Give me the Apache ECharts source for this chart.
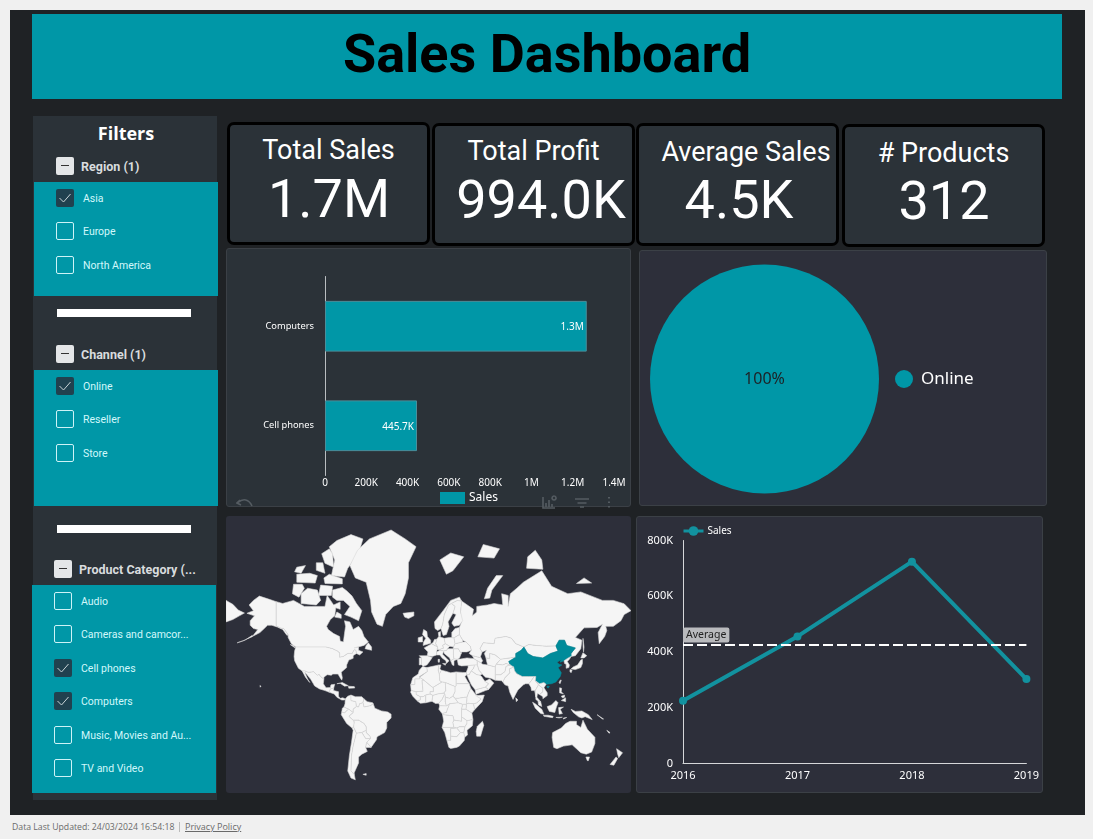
<!DOCTYPE html>
<html>
<head>
<meta charset="utf-8">
<title>Sales Dashboard</title>
<script src="https://cdn.jsdelivr.net/npm/echarts@6/dist/echarts.min.js"></script>
<style>
    html, body { margin: 0; padding: 0; background: #f0f0f0; width: 1093px; height: 839px; overflow: hidden; font-family: Roboto, sans-serif; }
    .box { position: absolute; box-sizing: border-box; }
    #page { left: 10px; top: 10px; width: 1075px; height: 805px; background: #1f2225; }
    #header { left: 32px; top: 14px; width: 1030px; height: 85px; background: #0097a7; color: #000; font: 700 54px/80px Roboto, sans-serif; text-align: center; }
    .panel { border: 1px solid #3b4046; border-radius: 3px; }
    .kpi { background: #2b3238; border: 3px solid #000; border-radius: 7px; color: #fff; }
    .kpi div { position: absolute; white-space: nowrap; transform: translate(-50%, -50%); }
    .kpi .t { font-size: 27px; }
    .kpi .v { font-size: 54px; }
    .txt { position: absolute; white-space: nowrap; transform: translateY(-50%); }
    .cb { position: absolute; width: 18px; height: 18px; box-sizing: border-box; border-radius: 2px; }
    #footer { position: absolute; left: 12px; top: 821px; font: 8.7px/12px "Open Sans", sans-serif; color: #6a6a6a; white-space: nowrap; }
    #footer span { position: absolute; left: 173px; font-size: 9px; text-decoration: underline; }
    #footer i { position: absolute; left: 167px; top: 1px; height: 10px; border-left: 1px solid #bbb; }
</style>
</head>
<body>
<div class="box" id="page"></div>
<div class="box" id="header">Sales Dashboard</div>
<div class="box" id="sidebar" style="left:33px;top:116px;width:184px;height:684px;background:#2b3238"></div>
<div class="box panel" id="bar_chart" style="left:226px;top:248px;width:405px;height:259px;background:#2b3238"></div>
<div class="box panel" id="pie_chart" style="left:639px;top:250px;width:408px;height:256px;background:#2d2f3a"></div>
<div class="box panel" id="map_chart" style="left:226px;top:516px;width:405px;height:277px;background:#2d2f3a;border:0"></div>
<div class="box panel" id="line_chart" style="left:636px;top:516px;width:407px;height:277px;background:#2d2f3a"></div>
<svg class="box" style="left:236px;top:494px;width:395px;height:16px" fill="none" stroke="#555c62" stroke-width="1.6">
    <path d="M4 6 L1 9 L5 11 M2 8.5 C7 4 13 5 16 12"/>
    <path d="M307 3 V14 H319 M310 13 V9 M313 13 V6 M316 13 V10 M318 2 a2 2 0 1 0 .1 0"/>
    <path d="M339 5 H353 M341.5 9 H350.5 M344 13 H348"/>
    <path d="M373 3 V4.5 M373 7.5 V9 M373 12 V13.5" stroke-width="2"/>
</svg>
<div id="footer">Data Last Updated: 24/03/2024 16:54:18<i></i><span>Privacy Policy</span></div>

<script>
    // ---- values ----
    var kpi_titles = ['Total Sales', 'Total Profit', 'Average Sales', '# Products'];
    var kpi_values = ['1.7M', '994.0K', '4.5K', '312'];

    var region_options = ['Asia', 'Europe', 'North America'];
    var region_checked = ['Asia'];
    var channel_options = ['Online', 'Reseller', 'Store'];
    var channel_checked = ['Online'];
    var category_options = ['Audio', 'Cameras and camcor...', 'Cell phones', 'Computers', 'Music, Movies and Au...', 'TV and Video'];
    var category_checked = ['Cell phones', 'Computers'];

    var bar_categories = ['Computers', 'Cell phones'];
    var bar_values = [1268000, 445700];
    var bar_labels = ['1.3M', '445.7K'];

    var pie_names = ['Online'];
    var pie_values = [1713700];

    var line_years = ['2016', '2017', '2018', '2019'];
    var line_values = [225000, 456000, 724000, 303000];
    var line_average = 427000;

    var selected_countries = ['China'];

    // ---- rough world outlines, [lon, lat] ----
    var world_shapes = {
        'Alaska': [
            [[-141,69.6],[-148,70.4],[-156.5,71.3],[-162,70],[-166,68.5],[-162,66.5],[-168,65.5],[-161,64.5],[-165,62.5],[-165,60.5],[-162,59],[-158,58.5],[-163,55],[-156,57],[-152,59],[-149,60.5],[-145,60.5],[-140,59.7],[-135,58.5],[-131,55.5],[-130,56],[-134,59],[-137,59.2],[-141,60.3]],
            [[-163,54.9],[-172,52.6],[-177,51.5],[-170,52.9],[-163,55.6]]
        ],
        'Canada': [
            [[-141,69.6],[-141,60.3],[-137,59.2],[-134,59],[-130,56],[-130,54.5],[-127,51],[-123,49],[-95,49],[-89,48],[-84.5,46.5],[-82.5,45.3],[-82.5,42.5],[-79,43],[-76,44.5],[-74.7,45],[-71,45],[-69,47.3],[-67.5,47],[-67,45],[-64,44],[-61,46],[-65,47],[-65,49],[-69,48.5],[-60,50],[-56,52],[-60,55],[-62,58],[-65,60],[-70,58.5],[-73,62],[-78,62.5],[-77,60],[-78,56.5],[-79,52],[-82,52.5],[-82.5,55],[-88,56.5],[-93,58.5],[-94.5,60],[-91,63],[-87,64.5],[-86,67.5],[-82,67],[-82,69.5],[-88,68.5],[-94,71.5],[-96,68],[-108,68],[-115,68],[-125,70],[-135,69]],
            [[-80,73.7],[-76,72.8],[-71,71.3],[-67,69],[-62,66.5],[-65,62.5],[-72,64],[-78,65],[-73,68],[-79,70],[-85,70],[-89,71],[-89,73]],
            [[-118,69],[-104,68.5],[-100,70],[-103,73],[-112,73.5],[-118,72]],
            [[-126,72],[-120,71],[-115,73.5],[-117,74.5],[-125,74.5]],
            [[-90,76.5],[-78,76.2],[-75,78],[-65,80.5],[-61,82.5],[-72,83],[-85,82.3],[-92,81.5],[-87,79.5]],
            [[-96,74.7],[-80,74.6],[-80,75.8],[-92,76.8],[-97,76]],
            [[-122,75],[-105,74.8],[-103,76.5],[-110,77],[-122,76.8]],
            [[-96,78.9],[-88,78.2],[-89,80.5],[-92,81.2],[-99,80.5]],
            [[-102,71.5],[-90,71.5],[-89,74],[-100,74.3]],
            [[-124,77.3],[-118,77],[-114,78.5],[-122,78.2]],
            [[-104,77.6],[-96,77],[-98,79],[-104,79]],
            [[-59,48],[-53,47],[-53,49],[-56,51.5],[-58,50]],
            [[-87,64],[-81,63.5],[-81,65],[-85,66]],
            [[-128,50.5],[-123.5,48.4],[-125,50]]
        ],
        'Greenland': [[[-73,78.5],[-66,81],[-55,82.5],[-35,83.5],[-22,82.5],[-12,81.5],[-19,79],[-19,76],[-22,72],[-26,69],[-33,68],[-40,65],[-43,60],[-48,61],[-53,66],[-54,70],[-58,75],[-68,76]]],
        'United States': [
            [[-123,49],[-95,49],[-89,48],[-84.5,46.5],[-82.5,45.3],[-82.5,42.5],[-79,43],[-76,44.5],[-74.7,45],[-71,45],[-69,47.3],[-67.5,47],[-67,45],[-70,43.5],[-70,41.7],[-74,40.5],[-76,37],[-76,35],[-81,31.5],[-80,27],[-80.5,25],[-82,27],[-84,30],[-89,30],[-90,29],[-94,29.5],[-97,27.5],[-97,26],[-99.5,27.5],[-101.5,29.7],[-103,29],[-106.5,31.8],[-111,31.3],[-114.7,32.5],[-117,32.5],[-120.5,34.5],[-124,40],[-124.5,43],[-124,46.5]],
            [[-156,20.5],[-155,19.7],[-155.7,19]]
        ],
        'Mexico': [[[-117,32.5],[-114.7,32.5],[-111,31.3],[-106.5,31.8],[-103,29],[-101.5,29.7],[-99.5,27.5],[-97,26],[-97.5,22],[-95,18.5],[-91,18.7],[-90.5,21],[-87,21.5],[-88,18],[-91,17.5],[-92,14.5],[-96,16],[-101,17.5],[-105.5,20],[-109,25.5],[-112.5,29.5],[-114.7,31.5],[-112,26],[-110,23],[-114,27.5]]],
        'Central America': [[[-92,14.5],[-91,17.5],[-88,18],[-88,16],[-83.5,15],[-83.5,11],[-82,9],[-79.5,9.5],[-77.3,8.5],[-78,7.5],[-80.5,7.5],[-85,10],[-87.5,13]]],
        'Cuba': [[[-85,22],[-80,23],[-74.5,20.3],[-78,19.9],[-82,22.3]]],
        'Hispaniola': [[[-74.5,19.8],[-69,19.5],[-68.5,18.3],[-74,18]]],
        'Colombia': [[[-77.3,8.5],[-75,11],[-72,12],[-72,7],[-67.5,6],[-67,1.5],[-70,-1],[-70,-4],[-74,-1],[-78.5,1],[-77.5,4]]],
        'Venezuela': [[[-72,12],[-68,10.5],[-62,10.5],[-60,8.5],[-61,5],[-64,4],[-65,1],[-67,1.5],[-67.5,6],[-72,7]]],
        'Guianas': [[[-60,8.5],[-57,6],[-52,5],[-51.5,4],[-54,2.2],[-58,1.5],[-60,1],[-61,5]]],
        'Brazil': [[[-51.5,4],[-50,0],[-44,-2.5],[-38,-3.5],[-35,-5.5],[-35,-9],[-39,-13],[-39,-18],[-41,-22],[-48,-25.5],[-48.5,-28],[-53.5,-34],[-57.5,-30],[-54,-27],[-54.5,-25],[-58,-22],[-58,-17],[-60,-14],[-65,-11],[-70,-11],[-74,-7.5],[-70,-4],[-70,-1],[-67,1.5],[-65,1],[-64,4],[-61,5],[-60,1],[-58,1.5],[-54,2.2]]],
        'Ecuador': [[[-78.5,1],[-74,-1],[-75.5,-2],[-78,-4.5],[-80.5,-3.5],[-80,0]]],
        'Peru': [[[-80.5,-3.5],[-78,-4.5],[-75.5,-2],[-74,-1],[-70,-4],[-74,-7.5],[-70,-11],[-69,-12.5],[-69.5,-17.5],[-71,-18],[-76,-14],[-81,-6]]],
        'Bolivia': [[[-70,-11],[-65,-11],[-60,-14],[-58,-17],[-58,-20],[-62,-22],[-67,-22.5],[-69.5,-17.5],[-69,-12.5]]],
        'Paraguay': [[[-58,-20],[-58,-22],[-54.5,-25],[-54,-27],[-58.5,-27],[-62,-22]]],
        'Chile': [[[-69.5,-17.5],[-67,-22.5],[-70,-33],[-71.5,-40],[-72,-50],[-69,-52],[-68,-55],[-72,-54],[-75,-50],[-73.5,-40],[-71.5,-30],[-70,-20],[-71,-18]]],
        'Argentina': [[[-67,-22.5],[-62,-22],[-58.5,-27],[-54,-27],[-57.5,-30],[-58.5,-34],[-57,-37],[-62,-39],[-65,-41],[-65,-45],[-69,-51],[-69,-52],[-72,-50],[-71.5,-40],[-70,-33]]],
        'Uruguay': [[[-57.5,-30],[-53.5,-34],[-58.5,-34]]],
        'Falklands': [[[-61,-52],[-58,-51.5],[-58,-52.5]]],
        'Morocco': [[[-6,35.8],[-2,35],[-1.5,32],[-8.7,28],[-8.7,26],[-13,26],[-13,21.3],[-17,21],[-15,27],[-10,30],[-9,33]]],
        'Algeria': [[[-2,35],[9,37],[8.5,33],[9.5,30],[10,24.5],[12,23.5],[4,19],[3,19],[-4.8,25],[-8.7,27.5],[-8.7,28],[-1.5,32]]],
        'Tunisia': [[[9,37],[11,37],[10,34],[11.5,33],[9.5,30],[8.5,33]]],
        'Libya': [[[11.5,33],[15,32.3],[20,31],[25,31.7],[25,20],[24,19.5],[15,23],[12,23.5],[10,24.5],[9.5,30]]],
        'Egypt': [[[25,31.7],[31,31.3],[34.3,31.2],[34.9,29.5],[33,28],[35.5,24],[37,22],[25,22]]],
        'Mauritania': [[[-17,21],[-13,21.3],[-13,26],[-8.7,26],[-8.7,27.5],[-4.8,25],[-6.5,25],[-5.5,15.5],[-12,15],[-16.5,16]]],
        'Mali': [[[-4.8,25],[3,19],[4,19],[4,15],[1,15],[1,13],[-3,12],[-5.5,10.5],[-8,10.5],[-12,12.5],[-12,15],[-5.5,15.5],[-6.5,25]]],
        'Niger': [[[4,19],[12,23.5],[15,23],[15.5,16],[13.5,13.7],[8,13],[3.5,11.7],[1,13],[1,15],[4,15]]],
        'Chad': [[[15,23],[24,19.5],[24,15],[22,11],[19,9],[15,10],[14.5,13],[13.5,13.7],[15.5,16]]],
        'Sudan': [[[24,19.5],[25,20],[25,22],[37,22],[38.5,18],[36.5,14],[35,10],[33,10],[27,9],[24,9],[22,11],[24,15]]],
        'Senegal': [[[-16.5,16],[-12,15],[-12,12.5],[-8,10.5],[-8,7.5],[-11,6.8],[-15,11],[-17,14.5]]],
        'Ivory Coast': [[[-8,10.5],[-5.5,10.5],[-3,12],[-3,5],[-8,4.5],[-11,6.8],[-8,7.5]]],
        'Ghana': [[[-3,12],[1,13],[3.5,11.7],[2.7,6.3],[-3,5]]],
        'Nigeria': [[[3.5,11.7],[8,13],[13.5,13.7],[14.5,13],[12,8],[9,4.5],[6,4.3],[2.7,6.3]]],
        'Cameroon': [[[14.5,13],[15,10],[15,6],[16,2],[9.8,2.2],[9,4.5],[12,8]]],
        'Central African Rep': [[[15,10],[19,9],[22,11],[24,9],[27,5],[19,4],[16,2],[15,6]]],
        'Gabon': [[[9.8,2.2],[16,2],[19,4],[17,-1],[16,-4],[12,-5],[9,-1]]],
        'DR Congo': [[[19,4],[27,5],[31,3.5],[30,-1],[30,-8],[30,-12],[23,-11],[22,-7],[12.5,-6],[12,-5],[16,-4],[17,-1]]],
        'Angola': [[[12.5,-6],[22,-7],[23,-11],[22,-13],[23,-17.5],[12,-17.5],[13.5,-12]]],
        'Ethiopia': [[[36.5,14],[38.5,18],[43,12.5],[48,8.5],[44,4.8],[41,4],[36,4.5],[34.5,3.5],[35,10]]],
        'Somalia': [[[43,11.5],[51,12],[49,6],[42,-1.5],[41,4],[44,4.8],[48,8.5]]],
        'Kenya': [[[36,4.5],[41,4],[42,-1.5],[39.5,-4.5],[34,-1],[34.5,3.5]]],
        'South Sudan': [[[24,9],[27,9],[33,10],[35,10],[34.5,3.5],[31,3.5],[27,5]]],
        'Uganda': [[[31,3.5],[34.5,3.5],[34,-1],[30,-1]]],
        'Tanzania': [[[34,-1],[39.5,-4.5],[40.5,-10.5],[35,-11.5],[30,-8],[30,-1]]],
        'Zambia': [[[22,-13],[23,-11],[30,-12],[30,-8],[35,-11.5],[35,-14],[33,-17],[28,-17],[25.5,-18],[23,-17.5]]],
        'Mozambique': [[[35,-11.5],[40.5,-10.5],[40,-16],[35,-20],[35.5,-24],[32.8,-26],[32,-22],[33,-17],[35,-14]]],
        'Zimbabwe': [[[28,-17],[33,-17],[32,-22],[29,-22],[25.5,-18]]],
        'Namibia': [[[12,-17.5],[23,-17.5],[25.5,-18],[20,-18.5],[20,-28.5],[16.5,-28.5],[14.5,-22]]],
        'Botswana': [[[20,-18.5],[25.5,-18],[29,-22],[25.5,-25.5],[20,-25]]],
        'South Africa': [[[16.5,-28.5],[20,-28.5],[20,-25],[25.5,-25.5],[29,-22],[32,-22],[32.8,-26],[32.5,-28.5],[28,-33],[25.5,-34],[20,-34.8],[18.3,-34]]],
        'Madagascar': [[[49.3,-12],[50.5,-15.5],[47.5,-25],[44,-25],[43.5,-21],[44.5,-16.5]]],
        'Russia': [
            [[30,69.8],[41,67],[40,64.5],[44,66],[44,68],[54,68.5],[60,69],[68,68.5],[67,72],[73,71.5],[73,68],[75,72],[81,73.5],[87,75],[104,77.5],[113,74],[128,72],[140,72.5],[160,70],[170,70],[180,68.9],[186.3,66.5],[180,65],[177,62.5],[170,60],[163,60],[164,58],[162,55],[157,51],[156,57],[160,61],[155,59.5],[143,59.3],[135,54.5],[141,53],[140,48],[135,43.5],[131,43],[131,45],[135,48.5],[127,50],[125,53],[120,53],[117,49.7],[108,49.5],[98,50],[92,50.5],[87.5,49],[80,51],[76,54],[71,55],[61,54],[60,51],[50,51.5],[47,48],[49,46],[47.5,43],[48,42],[40,43.5],[37,45],[39,47],[38,49.5],[34,52],[31,53],[28,56],[28,59.5],[30,62],[29,66]],
            [[-187.3,70],[-181,68.7],[-176,66.7],[-170.3,65.6],[-175,64.5],[-181,63],[-187.3,62]],
            [[51,70.5],[56,70.7],[58,73],[68,76.5],[62,76.5],[54,73.5]],
            [[45,80],[60,79.8],[65,81.2],[50,81.8]],
            [[90,78],[105,77.8],[104,79.5],[98,81],[91,80]],
            [[136,74.7],[150,74.8],[143,76]],
            [[142,54],[143,49],[142.5,46],[142,50]]
        ],
        'Svalbard': [[[10,79.5],[16,76.8],[22,77.5],[32,80],[20,80.6]]],
        'Iceland': [[[-24,65.5],[-14,66],[-14,64.5],[-19,63.4],[-22.5,64]]],
        'Finland': [[[20.5,69],[26,70],[30,69.8],[29,66],[31,62.5],[28,60.5],[23,60],[21,61.5],[25,65],[22,65.5],[24,68]]],
        'Sweden': [[[24,68],[22,65.5],[17.5,62],[18.5,60],[16,56],[13,55.5],[11,59],[12.5,61],[14,65],[18,68.5],[20.5,69]]],
        'Norway': [[[5,62],[5.5,59],[8,58],[11,59],[12.5,61],[14,65],[18,68.5],[20.5,69],[26,70],[30,69.8],[28,71],[20,70],[13,66.5]]],
        'United Kingdom': [[[-5.5,50],[1.5,51.2],[1.5,53],[-1.5,55],[-2,57.5],[-5,58.5],[-6,56],[-3,54],[-5,52]]],
        'Ireland': [[[-10,52],[-6,52],[-6,55],[-10,54.3]]],
        'France': [[[-4.5,48.5],[2.5,51],[8,49],[7.5,47.7],[7,46],[7,44],[3,43],[-1.7,43.4],[-1,46]]],
        'Spain': [[[-9,43.5],[-1.7,43.4],[3,42.3],[0,39],[-2,37],[-5.5,36],[-7,37.2],[-7,42]]],
        'Portugal': [[[-9,42],[-7,42],[-7,37.2],[-9,37]]],
        'Germany': [[[6,51],[7,53.5],[9,55],[14,54],[15,51],[12.5,50],[13.5,48.5],[10,47.5],[7.5,47.7],[8,49]]],
        'Benelux': [[[2.5,51],[4,52],[5,53.4],[7,53.5],[6,51],[8,49]]],
        'Denmark': [[[8.5,57],[10.5,57.5],[10.5,55],[9,55]]],
        'Poland': [[[14,54],[19,54.5],[23,54.3],[24,51],[22.5,49],[19,49.5],[15,51]]],
        'Austria': [[[12.5,50],[15,51],[19,49.5],[17,48],[16.5,47],[13.5,46.5],[10,47],[7.5,47.7],[10,47.5],[13.5,48.5]]],
        'Italy': [[[7,44],[7,46],[10,47],[13.5,46.5],[12.5,44.5],[16,41.8],[18.5,40],[16,38],[15.5,40],[12,42],[10,44]], [[12.5,38],[15.5,38],[15,36.8]], [[8.3,41],[9.7,41],[9.5,39],[8.5,39]]],
        'Balkans': [[[13.5,46.5],[16.5,47],[17,48],[22.5,48],[22.5,44],[23,41.5],[20,40],[19,42],[14,45]]],
        'Greece': [[[20,40],[23,41.5],[26,41],[23,40],[23,36.5],[21.5,37]]],
        'Romania': [[[22.5,48],[27,48],[29.7,45],[28,41.8],[26,41],[23,41.5],[22.5,44]]],
        'Ukraine': [[[22.5,49],[24,51],[31,52],[34,52],[38,49.5],[39,47],[35,46],[33,46],[30,46],[29.7,45],[27,48],[22.5,48]]],
        'Belarus': [[[24,51],[23,54.3],[28,56],[31,53],[31,52]]],
        'Baltics': [[[21,54.3],[21,57],[24,59],[28,59.5],[28,56],[23,54.3]]],
        'Turkey': [[[26,41],[29,41.2],[35,42],[41.5,41.5],[44.5,40],[44.5,37],[36,36.5],[30,36.3],[27,37]]],
        'Caucasus': [[[41.5,41.5],[40,43.5],[48,42],[49.5,40],[48,38.5],[44.5,40]]],
        'Kazakhstan': [[[47,48],[50,51.5],[60,51],[61,54],[71,55],[76,54],[80,51],[87.5,49],[85,47],[80,45],[80,42.5],[70,41.5],[66,41],[61,44],[56,45],[56,41.5],[52.5,42],[51,45],[53,47],[49,46]]],
        'Turkmenistan': [[[52.5,42],[56,41.5],[56,45],[61,44],[66,41],[62,37.5],[61,35.5],[54,37],[53,40]]],
        'Tajikistan': [[[66,41],[70,41.5],[80,42.5],[73.5,39.5],[75,37],[71,38],[68,37],[62,37.5]]],
        'Mongolia': [[[87.5,49],[92,50.5],[98,50],[108,49.5],[117,49.7],[119,46.5],[112,45],[105,42],[96,43],[91,45]]],
        'China': [
            [[73.5,39.5],[80,42.5],[80,45],[85,47],[87.5,49],[91,45],[96,43],[105,42],[112,45],[119,46.5],[117,49.7],[120,53],[125,53],[127,50],[135,48.5],[131,45],[131,43],[128,41.8],[124.5,40],[121,39],[122,40.8],[118,39],[120,37.5],[122.5,37],[119,35],[122,31],[121,28],[117,23.5],[113,22],[108,21.5],[106,23],[102,22],[98,24.5],[98.5,28],[92,28],[86,28],[81,30.3],[79,32.5],[78,35.5],[75,37]],
            [[109,20],[111,19.7],[110,18.2],[108.7,19]]
        ],
        'Korea': [[[124.5,40],[128,41.8],[131,43],[129.5,41],[127.5,39.5],[129.5,37],[129,35],[126.5,34.5],[126.5,37.5],[125,38]]],
        'Japan': [[[131,34],[135,33.5],[140,35],[141.5,38],[141.5,41],[140,40.5],[137,37],[133,35.5]], [[140,42],[142,45.5],[145.5,43.5],[143,42]], [[130,33.5],[132,33],[131,31],[130,32]]],
        'Taiwan': [[[121,25],[122,25],[120.8,22],[120,23]]],
        'India': [[[68,23.5],[70,21],[73,20],[74.5,14.5],[77.5,8],[80,13],[82,16.5],[87,21],[89,22],[92,22],[94,24],[97,28],[92,28],[86,28],[81,30.3],[79,32.5],[78,35.5],[74,34],[74.5,31],[70,27]], [[80,9.5],[82,7.5],[80.5,6]]],
        'Pakistan': [[[61,25],[67,24.5],[68,23.5],[70,27],[74.5,31],[74,34],[78,35.5],[75,37],[71,36],[70,32],[66,29.5],[61,29.5]]],
        'Afghanistan': [[[61,35.5],[62,37.5],[68,37],[71,38],[75,37],[71,36],[70,32],[66,29.5],[61,29.5]]],
        'Iran': [[[44.5,40],[48,38.5],[49.5,37.5],[54,37],[61,35.5],[61,29.5],[61,25],[57,26.5],[52,27.5],[49,30],[46,33],[44.5,37]]],
        'Iraq': [[[44.5,37],[46,33],[49,30],[47,29],[44,29.5],[39,32.5],[41,34.5],[42,37]]],
        'Syria': [[[36,36.5],[42,37],[41,34.5],[39,32.5],[37,29.5],[34.9,29.5],[34.3,31.2],[36,35]]],
        'Saudi Arabia': [[[34.9,29.5],[37,29.5],[39,32.5],[44,29.5],[47,29],[48.5,28],[50,26],[51.5,24],[55,22],[52,19],[44,17],[42.7,16.5],[39,21],[36.5,26]]],
        'Oman': [[[51.5,24],[56,26],[59.8,22.5],[55,17],[52,19],[55,22]]],
        'Yemen': [[[42.7,16.5],[44,17],[52,19],[55,17],[52,16],[43.5,12.7],[43,14]]],
        'Myanmar': [[[92,22],[94,24],[97,28],[98.5,28],[98,24.5],[101,21],[98,16],[98.5,10],[97.5,16],[94.5,16],[94,19]]],
        'Thailand': [[[101,21],[105,18],[105,15],[102,12.5],[100,13.5],[99.5,10],[103,6],[100.5,6.5],[98.5,8],[98.5,10],[98,16]]],
        'Vietnam': [[[98,24.5],[102,22],[106,23],[108,21.5],[106,18.5],[109,14],[109,11.5],[105,8.7],[105,10.5],[102,12.5],[105,15],[105,18],[101,21]]],
        'Malaysia': [[[100.5,6.5],[103,6],[104,1.5],[101,3]], [[109,1.5],[113,3],[117,7],[119,5],[117.5,1],[116,-4],[111,-3],[109.5,0]]],
        'Indonesia': [[[95.5,5.5],[98,4],[104,-1],[106,-5.5],[103,-5],[98,0]], [[105.5,-6.5],[110,-6.5],[114.5,-7.5],[114,-8.7],[106,-7.5]], [[119.5,0.5],[124,1],[121,-1],[123,-5],[120,-5.5]], [[124,-9],[127,-8.5],[124,-10]], [[117,-8.5],[123,-8.3],[120,-9]]],
        'Philippines': [[[120.5,18.5],[122.3,18],[122,15],[124,13],[120.5,14]], [[122,7],[126,9.5],[126,6],[124,6.5]], [[122,11],[125,12],[125,10],[123,9.5]]],
        'New Guinea': [[[131,-1],[135,-3],[141,-2.6],[147,-6],[150.5,-10.5],[144,-7.8],[141,-9],[138,-8],[133,-4]]],
        'Solomon': [[[155,-6],[161,-10],[160,-10]]],
        'New Caledonia': [[[164,-20],[167,-22],[166,-22.5]]],
        'Australia': [[[114,-22],[122,-18],[126,-14],[130,-12],[136,-12],[136,-15],[140,-17.5],[142,-11],[146,-19],[153,-26],[153,-31],[150,-37.5],[145,-39],[140,-38],[136,-35],[132,-32],[124,-33],[118,-35],[115,-34],[113.5,-26]], [[144.7,-41],[148,-41],[147,-43.5],[146,-43.5]]],
        'New Zealand': [[[173,-35],[178.5,-38],[175,-41.5],[174,-39]], [[172.5,-41],[174,-42],[170.5,-46.5],[167,-46]]]
    };

    // ---- page furniture ----
    function add_el(cls, css, text) {
        var el = document.createElement('div');
        el.className = cls;
        el.style.cssText = css;
        if (text) el.textContent = text;
        document.body.appendChild(el);
        return el;
    }

    var kpi_boxes = [[227, 122], [432, 123], [636, 123], [842, 124]];
    var kpi_title_x = [98.5, 98.5, 107, 98.5];
    var kpi_value_x = [99, 106, 100, 99];
    var kpi_title_y = [24.5, 24.5, 25.5, 25.5];
    kpi_titles.forEach(function (title, i) {
        var card = add_el('box kpi', 'left:' + kpi_boxes[i][0] + 'px;top:' + kpi_boxes[i][1] + 'px;width:203px;height:123px');
        var t = document.createElement('div');
        t.className = 't';
        t.textContent = title;
        t.style.cssText = 'left:' + kpi_title_x[i] + 'px;top:' + kpi_title_y[i] + 'px';
        var v = document.createElement('div');
        v.className = 'v';
        v.textContent = kpi_values[i];
        v.style.cssText = 'left:' + kpi_value_x[i] + 'px;top:73px';
        card.appendChild(t);
        card.appendChild(v);
    });

    add_el('txt', 'left:34px;width:184px;top:133px;text-align:center;font:700 18px "Open Sans",sans-serif;color:#fff', 'Filters');

    function add_filter(name, options, checked, x, head_y, band, rows_y, text_x) {
        add_el('box', 'left:' + band[0] + 'px;top:' + band[1] + 'px;width:184px;height:' + (band[2] - band[1]) + 'px;background:#0097a7');
        var head = add_el('cb', 'left:' + x + 'px;top:' + head_y + 'px;background:#e4e6e8');
        head.innerHTML = '<div style="position:absolute;left:5px;top:8px;width:8px;height:1px;background:#333"></div>';
        add_el('txt', 'left:' + (x + 25) + 'px;top:' + (head_y + 9) + 'px;font:700 12.5px Roboto,sans-serif;color:#d9dcde', name);
        options.forEach(function (opt, i) {
            var on = checked.indexOf(opt) >= 0;
            var cb = add_el('cb', 'left:' + x + 'px;top:' + rows_y[i] + 'px;' + (on ? 'background:#21414f' : 'border:1px solid #cdf3f7'));
            if (on) cb.innerHTML = '<svg width="18" height="18" fill="none" stroke="#c9d3d6" stroke-width="1"><path d="M3.5 9 L7.5 13 L14.5 5"/></svg>';
            add_el('txt', 'left:' + text_x + 'px;top:' + (rows_y[i] + 8.5) + 'px;font:10.5px Roboto,sans-serif;color:#d2f8fb', opt);
        });
    }
    add_filter('Region (1)', region_options, region_checked, 56, 157, [34, 182, 296], [189, 222, 256], 83);
    add_filter('Channel (1)', channel_options, channel_checked, 56, 345, [34, 370, 506], [377, 410, 444], 83);
    add_filter('Product Category (...', category_options, category_checked, 54, 560, [32, 585, 793], [592, 625, 659, 692, 726, 759], 81);
    add_el('box', 'left:57px;top:309px;width:134px;height:8px;background:#fff');
    add_el('box', 'left:57px;top:525px;width:134px;height:8px;background:#fff');

    // ---- charts ----
    var label_font = '"Noto Sans", sans-serif';
    function short_number(v) {
        if (v === 0) return '0';
        if (v >= 1000000) return (v / 1000000) + 'M';
        return (v / 1000) + 'K';
    }

    var bar_chart = echarts.init(document.getElementById('bar_chart'));
    bar_chart.setOption({
        animation: false,
        legend: {
            left: 213, top: 243, padding: 0, itemWidth: 25, itemHeight: 12, itemGap: 5,
            itemStyle: { borderWidth: 0 },
            textStyle: { color: '#fff', fontSize: 12, fontFamily: label_font, padding: [0, 0, 0, -1] },
            data: [{ name: 'Sales', icon: 'rect' }]
        },
        grid: { left: 98, top: 27.5, width: 289, height: 199 },
        xAxis: {
            type: 'value', min: 0, max: 1400000, interval: 200000,
            axisLine: { show: false }, axisTick: { show: false }, splitLine: { show: false },
            axisLabel: { color: '#fff', fontSize: 10, fontFamily: label_font, margin: 3, formatter: short_number, showMaxLabel: true }
        },
        yAxis: {
            type: 'category', data: bar_categories, inverse: true,
            axisLine: { lineStyle: { color: '#b9bdc0', width: 1 } }, axisTick: { show: false },
            axisLabel: { color: '#fff', fontSize: 9.3, fontFamily: label_font, margin: 11, padding: [2, 0, 0, 0] }
        },
        series: [{
            name: 'Sales', type: 'bar', data: bar_values, barCategoryGap: '49%',
            itemStyle: { color: '#0097a7', borderColor: '#4a8f9b', borderWidth: 1 },
            label: {
                show: true, position: 'insideRight', distance: 3, offset: [0, 1], color: '#fff', fontSize: 10, fontFamily: label_font,
                formatter: function (p) { return bar_labels[p.dataIndex]; }
            }
        }]
    });

    var pie_chart = echarts.init(document.getElementById('pie_chart'));
    pie_chart.setOption({
        animation: false,
        legend: {
            left: 255, top: 119, padding: 0, orient: 'vertical', icon: 'circle', itemWidth: 18, itemHeight: 18,
            textStyle: { color: '#fff', fontSize: 17, fontFamily: label_font, padding: [0, 0, 0, 3] }
        },
        series: [{
            type: 'pie', center: [124.5, 128], radius: [0, 114.5],
            color: ['#0097a7'],
            data: pie_names.map(function (n, i) { return { name: n, value: pie_values[i] }; }),
            label: { show: true, position: 'center', formatter: '{d}%', color: '#1d2125', fontSize: 16, fontFamily: label_font },
            labelLine: { show: false }
        }]
    });

    var world_features = Object.keys(world_shapes).map(function (name) {
        return {
            type: 'Feature', properties: { name: name },
            geometry: { type: 'MultiPolygon', coordinates: world_shapes[name].map(function (ring) { return [ring]; }) }
        };
    });
    echarts.registerMap('world', { type: 'FeatureCollection', features: world_features });

    var deg = 180 / Math.PI;
    var map_chart = echarts.init(document.getElementById('map_chart'));
    map_chart.setOption({
        animation: false,
        series: [{
            type: 'map', map: 'world', silent: true, left: 0, top: 14, width: 405,
            projection: {
                project: function (p) {
                    return [p[0], -deg * Math.log(Math.tan(Math.PI / 4 + p[1] / deg / 2))];
                },
                unproject: function (p) {
                    return [p[0], (2 * Math.atan(Math.exp(-p[1] / deg)) - Math.PI / 2) * deg];
                }
            },
            label: { show: false },
            itemStyle: { areaColor: '#f5f5f5', borderColor: '#d8d8d8', borderWidth: 0.6 },
            data: selected_countries.map(function (n) {
                return { name: n, value: 1, itemStyle: { areaColor: '#008b9a', borderColor: '#008b9a' } };
            })
        }]
    });

    var line_chart = echarts.init(document.getElementById('line_chart'));
    line_chart.setOption({
        animation: false,
        legend: {
            left: 45, top: 9, padding: 0, itemWidth: 20, itemHeight: 12, itemGap: 5,
            lineStyle: { width: 3 },
            textStyle: { color: '#fff', fontSize: 10, fontFamily: label_font, padding: [0, 0, 0, -1] },
            data: ['Sales']
        },
        grid: { left: 46, top: 23.5, width: 345.5, height: 223 },
        xAxis: {
            type: 'category', data: line_years, boundaryGap: false,
            axisLine: { lineStyle: { color: '#d5d7d9', width: 1 } }, axisTick: { show: false },
            axisLabel: { color: '#fff', fontSize: 11, fontFamily: label_font, margin: 7, showMaxLabel: true }
        },
        yAxis: {
            type: 'value', min: 0, max: 800000, interval: 200000,
            axisLine: { show: true, lineStyle: { color: '#d5d7d9', width: 1 } }, axisTick: { show: false }, splitLine: { show: false },
            axisLabel: { color: '#fff', fontSize: 11, fontFamily: label_font, margin: 10, formatter: short_number }
        },
        series: [{
            name: 'Sales', type: 'line', data: line_values, symbol: 'circle', symbolSize: 8, clip: false,
            lineStyle: { color: '#12929f', width: 4 },
            itemStyle: { color: '#12929f' },
            markLine: {
                silent: true, symbol: 'none', data: [{ yAxis: line_average }],
                lineStyle: { color: '#fff', type: [10, 4], width: 2 },
                label: {
                    position: 'insideStartTop', distance: 2, formatter: 'Average', color: '#222', fontSize: 10.5, fontFamily: label_font,
                    backgroundColor: '#b9babd', padding: [2, 3], borderRadius: 2, offset: [-2, 0]
                }
            }
        }]
    });
</script>
</body>
</html>
